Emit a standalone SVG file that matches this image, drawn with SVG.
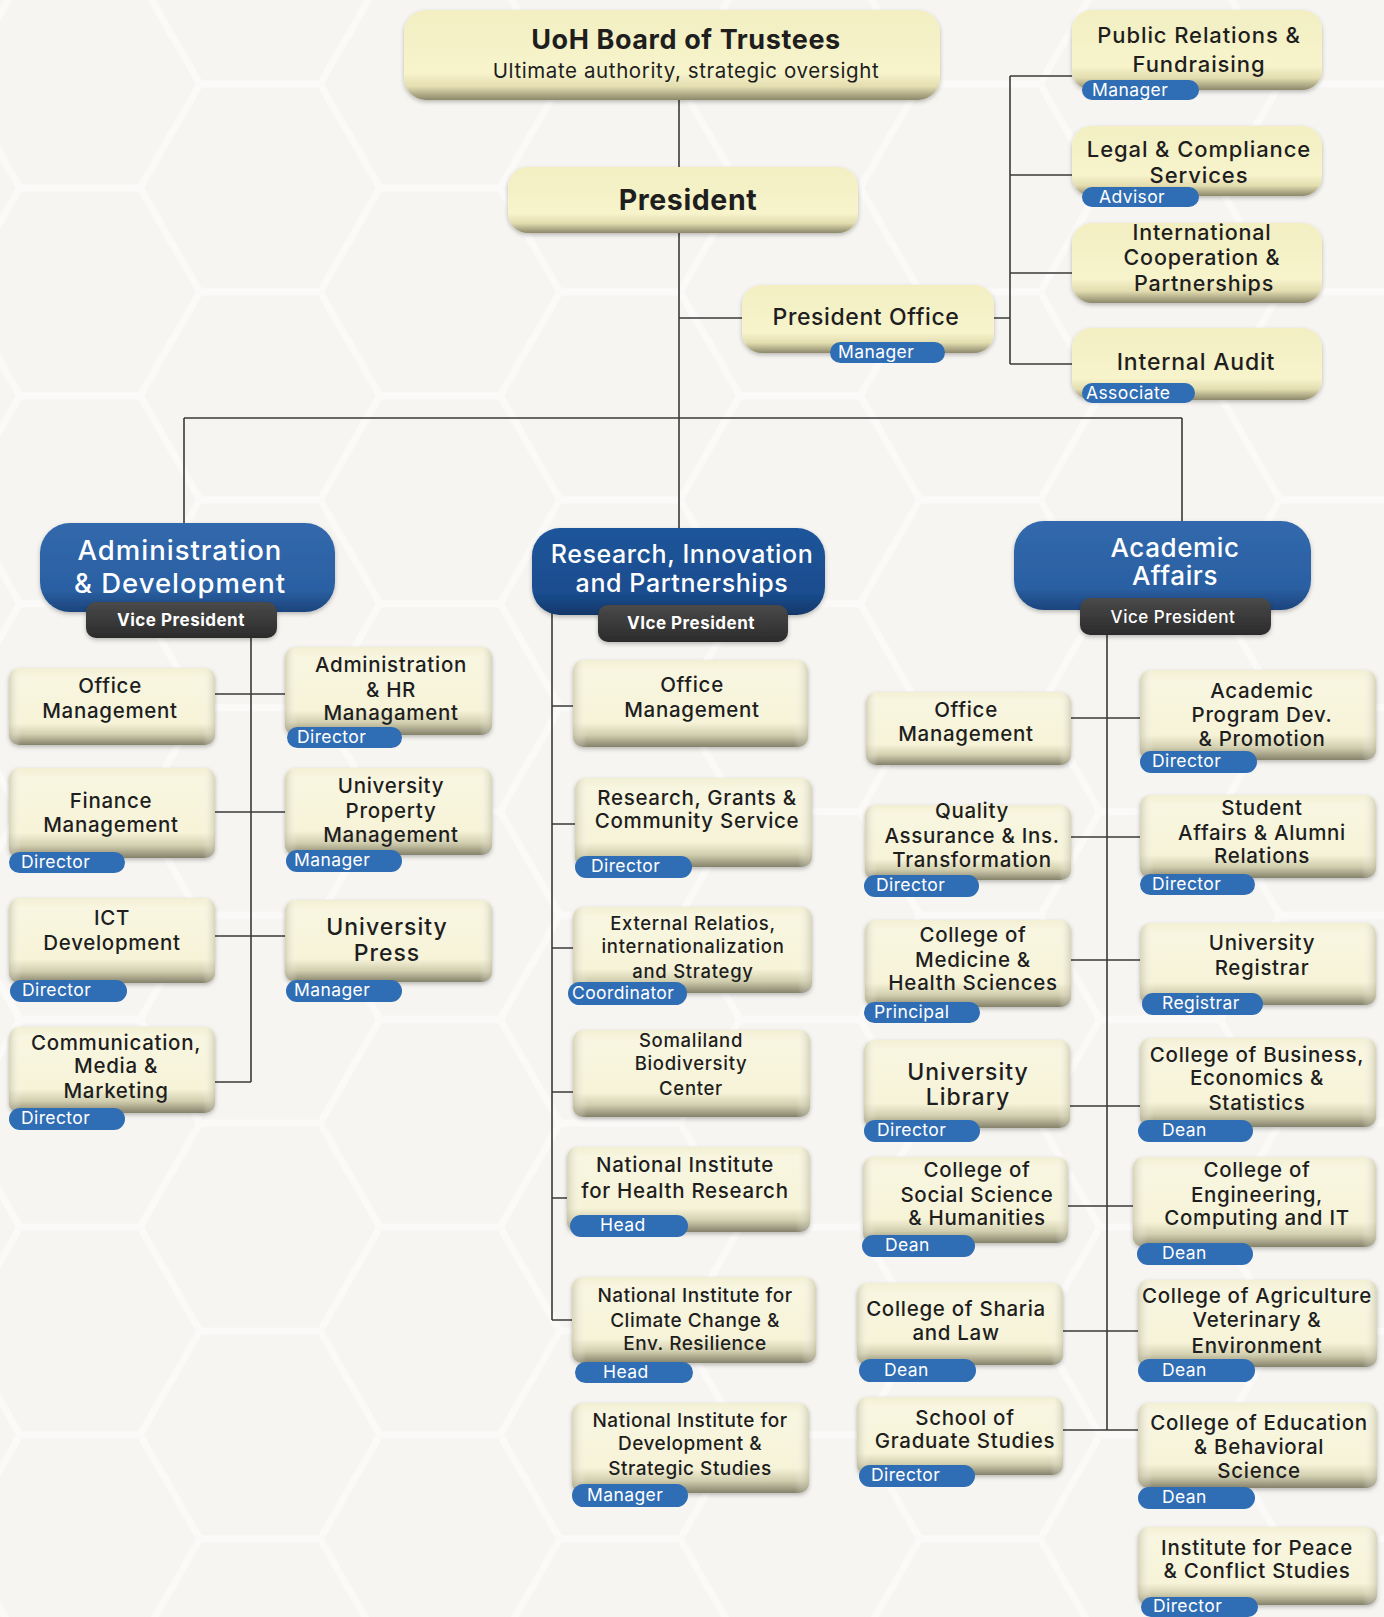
<svg xmlns="http://www.w3.org/2000/svg" width="1384" height="1617" viewBox="0 0 1384 1617">
<defs>
<pattern id="hex" width="360" height="207.85" patternUnits="userSpaceOnUse" x="-40" y="-20">
<path d="M0,103.9 L60,0 L180,0 L240,103.9 L180,207.8 L60,207.8 Z M240,103.9 L360,103.9" fill="none" stroke="#ffffff" stroke-width="7"/>
</pattern>
<linearGradient id="cg" x1="0" y1="0" x2="0" y2="1">
<stop offset="0" stop-color="#f2efd3"/>
<stop offset="0.12" stop-color="#f8f6e0"/>
<stop offset="0.72" stop-color="#f6f3d8"/>
<stop offset="0.86" stop-color="#d2cfb0"/>
<stop offset="1" stop-color="#85826b"/>
</linearGradient>
<linearGradient id="side" x1="0" y1="0" x2="1" y2="0">
<stop offset="0" stop-color="#bdb99c" stop-opacity="0.55"/>
<stop offset="0.06" stop-color="#ffffff" stop-opacity="0"/>
<stop offset="0.94" stop-color="#ffffff" stop-opacity="0"/>
<stop offset="1" stop-color="#bdb99c" stop-opacity="0.55"/>
</linearGradient>
<linearGradient id="tg" x1="0" y1="0" x2="0" y2="1">
<stop offset="0" stop-color="#f3efc3"/>
<stop offset="0.7" stop-color="#f7f3cb"/>
<stop offset="0.85" stop-color="#e3ddb0"/>
<stop offset="1" stop-color="#8c886a"/>
</linearGradient>
<linearGradient id="bl" x1="0" y1="0" x2="0" y2="1">
<stop offset="0" stop-color="#3169ac"/>
<stop offset="0.75" stop-color="#2b60a3"/>
<stop offset="1" stop-color="#1b447c"/>
</linearGradient>
<linearGradient id="bl2" x1="0" y1="0" x2="0" y2="1">
<stop offset="0" stop-color="#1f559a"/>
<stop offset="0.75" stop-color="#1a4d8f"/>
<stop offset="1" stop-color="#113768"/>
</linearGradient>
<linearGradient id="vg" x1="0" y1="0" x2="0" y2="1">
<stop offset="0" stop-color="#4a4a4a"/>
<stop offset="1" stop-color="#2b2b2b"/>
</linearGradient>
<filter id="sh" x="-10%" y="-10%" width="120%" height="130%">
<feDropShadow dx="0" dy="2" stdDeviation="2" flood-color="#000" flood-opacity="0.25"/>
</filter>
</defs>
<style>
.ln{stroke:#3a3a3a;stroke-width:1.6;fill:none}
.c{fill:url(#cg);filter:url(#sh)}
.s{fill:url(#side)}
.tp{fill:url(#tg);filter:url(#sh)}
.t{font-family:Inter,"Liberation Sans",sans-serif;font-size:20.5px;letter-spacing:0.7px;font-weight:500;fill:#1e1e1e;text-anchor:middle}
.tb{font-weight:700}
.b{fill:#2f6db4}
.bt{font-family:Inter,"Liberation Sans",sans-serif;font-size:17.5px;letter-spacing:0.4px;font-weight:400;fill:#ffffff}
.bx{fill:url(#bl);filter:url(#sh)}
.bx2{fill:url(#bl2);filter:url(#sh)}
.bw{font-family:Inter,"Liberation Sans",sans-serif;font-size:27.5px;letter-spacing:1px;font-weight:500;fill:#ffffff;text-anchor:middle}
.vp{fill:url(#vg);filter:url(#sh)}
.vt{font-family:Inter,"Liberation Sans",sans-serif;font-size:17px;letter-spacing:0.5px;font-weight:700;fill:#ffffff;text-anchor:middle}
</style>
<rect width="1384" height="1617" fill="#f6f5f1"/>
<rect width="1384" height="1617" fill="url(#hex)" opacity="0.5"/>

<g id="connectors">
<path class="ln" d="M679,100 V167 M679,233 V418 M679,318 H742"/>
<path class="ln" d="M994,318 H1010 M1010,76 V364 M1010,76 H1072 M1010,175 H1072 M1010,273 H1072 M1010,364 H1072"/>
<path class="ln" d="M184,418 H1182 M184,418 V523 M679,418 V528 M1182,418 V521"/>
<path class="ln" d="M251,638 V1082 M215,694 H285 M215,812 H285 M215,936 H285 M215,1082 H251"/>
<path class="ln" d="M552,612 V1320 M552,706 H573 M552,824 H575 M552,948 H573 M552,1092 H573 M552,1198 H567 M552,1320 H572"/>
<path class="ln" d="M1107,635 V1430 M1071,718 H1140 M1071,837 H1140 M1071,960 H1140 M1070,1106 H1140 M1068,1206 H1133 M1063,1331 H1138 M1063,1430 H1138"/>
</g>

<g id="n-board"><rect class="tp" x="404" y="10" width="536" height="90" rx="22"/><text class="t tb" x="686" y="49" style="font-size:27px;letter-spacing:0.6px">UoH Board of Trustees</text><text class="t" x="686" y="78" style="font-size:20.5px;letter-spacing:0.6px;font-weight:400">Ultimate authority, strategic oversight</text></g>
<g id="n-president"><rect class="tp" x="508" y="167" width="350" height="66" rx="20"/><text class="t tb" x="688" y="210" style="font-size:28.5px;letter-spacing:0.6px">President</text></g>
<g id="n-po"><rect class="tp" x="742" y="285" width="252" height="68" rx="20"/><text class="t" x="866" y="325" style="font-size:23px;letter-spacing:0.6px">President Office</text><rect class="b" x="830" y="342" width="115" height="21" rx="10.5"/><text class="bt" x="838" y="358">Manager</text></g>
<g id="n-pr"><rect class="tp" x="1072" y="10" width="250" height="80" rx="20"/><text class="t" style="font-size:22px;letter-spacing:0.9px"><tspan x="1199" y="43">Public Relations &amp;</tspan><tspan x="1199" y="72">Fundraising</tspan></text><rect class="b" x="1082" y="80" width="117" height="20" rx="10"/><text class="bt" x="1092" y="96">Manager</text></g>
<g id="n-legal"><rect class="tp" x="1072" y="126" width="250" height="70" rx="20"/><text class="t" style="font-size:22px;letter-spacing:0.9px"><tspan x="1199" y="157">Legal &amp; Compliance</tspan><tspan x="1199" y="183">Services</tspan></text><rect class="b" x="1082" y="187" width="117" height="20" rx="10"/><text class="bt" x="1099" y="203">Advisor</text></g>
<g id="n-intl"><rect class="tp" x="1072" y="223" width="250" height="80" rx="20"/><text class="t" style="font-size:21.5px;letter-spacing:0.8px"><tspan x="1202" y="240">International</tspan><tspan x="1202" y="265">Cooperation &amp;</tspan><tspan x="1204" y="291">Partnerships</tspan></text></g>
<g id="n-audit"><rect class="tp" x="1072" y="328" width="250" height="72" rx="20"/><text class="t" x="1196" y="370" style="font-size:23px;letter-spacing:0.8px">Internal Audit</text><rect class="b" x="1082" y="383" width="113" height="20" rx="10"/><text class="bt" x="1086" y="399">Associate</text></g>

<g id="n-admin"><rect class="bx" x="40" y="523" width="295" height="89" rx="30"/><text class="bw"><tspan x="180" y="560">Administration</tspan><tspan x="180" y="593">&amp; Development</tspan></text><rect class="vp" x="86" y="602" width="191" height="36" rx="10"/><text class="vt" x="181" y="626">Vice President</text></g>
<g id="n-research"><rect class="bx2" x="532" y="528" width="293" height="87" rx="28"/><text class="bw" style="font-size:25px;letter-spacing:0.6px"><tspan x="682" y="563">Research, Innovation</tspan><tspan x="682" y="592">and Partnerships</tspan></text><rect class="vp" x="598" y="605" width="190" height="37" rx="10"/><text class="vt" x="691" y="629">VIce President</text></g>
<g id="n-academic"><rect class="bx" x="1014" y="521" width="297" height="89" rx="30"/><text class="bw" style="font-size:26px;letter-spacing:0.6px"><tspan x="1175" y="557">Academic</tspan><tspan x="1175" y="585">Affairs</tspan></text><rect class="vp" x="1080" y="598" width="191" height="37" rx="10"/><text class="vt" x="1173" y="623" style="font-weight:500">Vice President</text></g>

<g id="n-a-office"><rect class="c" x="9" y="668" width="206" height="77" rx="10"/><rect class="s" x="9" y="668" width="206" height="77" rx="10"/><text class="t"><tspan x="110" y="693">Office</tspan><tspan x="110" y="718">Management</tspan></text></g>
<g id="n-a-hr"><rect class="c" x="285" y="647" width="207" height="88" rx="10"/><rect class="s" x="285" y="647" width="207" height="88" rx="10"/><text class="t"><tspan x="391" y="672">Administration</tspan><tspan x="391" y="697">&amp; HR</tspan><tspan x="391" y="720">Managament</tspan></text><rect class="b" x="287" y="727" width="115" height="21" rx="10.5"/><text class="bt" x="297" y="743">Director</text></g>
<g id="n-a-finance"><rect class="c" x="9" y="768" width="206" height="90" rx="10"/><rect class="s" x="9" y="768" width="206" height="90" rx="10"/><text class="t"><tspan x="111" y="808">Finance</tspan><tspan x="111" y="832">Management</tspan></text><rect class="b" x="9" y="852" width="116" height="21" rx="10.5"/><text class="bt" x="21" y="868">Director</text></g>
<g id="n-a-property"><rect class="c" x="285" y="768" width="207" height="87" rx="10"/><rect class="s" x="285" y="768" width="207" height="87" rx="10"/><text class="t"><tspan x="391" y="793">University</tspan><tspan x="391" y="818">Property</tspan><tspan x="391" y="842">Management</tspan></text><rect class="b" x="286" y="850" width="116" height="22" rx="11"/><text class="bt" x="294" y="866">Manager</text></g>
<g id="n-a-ict"><rect class="c" x="9" y="898" width="206" height="85" rx="10"/><rect class="s" x="9" y="898" width="206" height="85" rx="10"/><text class="t"><tspan x="112" y="925">ICT</tspan><tspan x="112" y="950">Development</tspan></text><rect class="b" x="10" y="980" width="117" height="22" rx="11"/><text class="bt" x="22" y="996">Director</text></g>
<g id="n-a-press"><rect class="c" x="285" y="900" width="207" height="82" rx="10"/><rect class="s" x="285" y="900" width="207" height="82" rx="10"/><text class="t" style="font-size:23px;letter-spacing:1px"><tspan x="387" y="935">University</tspan><tspan x="387" y="961">Press</tspan></text><rect class="b" x="286" y="980" width="116" height="22" rx="11"/><text class="bt" x="294" y="996">Manager</text></g>
<g id="n-a-comm"><rect class="c" x="9" y="1027" width="206" height="86" rx="10"/><rect class="s" x="9" y="1027" width="206" height="86" rx="10"/><text class="t"><tspan x="116" y="1050">Communication,</tspan><tspan x="116" y="1073">Media &amp;</tspan><tspan x="116" y="1098">Marketing</tspan></text><rect class="b" x="9" y="1108" width="116" height="22" rx="11"/><text class="bt" x="21" y="1124">Director</text></g>

<g id="n-r-office"><rect class="c" x="573" y="660" width="235" height="87" rx="10"/><rect class="s" x="573" y="660" width="235" height="87" rx="10"/><text class="t"><tspan x="692" y="692">Office</tspan><tspan x="692" y="717">Management</tspan></text></g>
<g id="n-r-grants"><rect class="c" x="575" y="778" width="237" height="89" rx="10"/><rect class="s" x="575" y="778" width="237" height="89" rx="10"/><text class="t"><tspan x="697" y="805">Research, Grants &amp;</tspan><tspan x="697" y="828">Community Service</tspan></text><rect class="b" x="575" y="856" width="117" height="22" rx="11"/><text class="bt" x="591" y="872">Director</text></g>
<g id="n-r-external"><rect class="c" x="573" y="907" width="239" height="86" rx="10"/><rect class="s" x="573" y="907" width="239" height="86" rx="10"/><text class="t" style="font-size:18.5px;letter-spacing:0.7px"><tspan x="693" y="930">External Relatios,</tspan><tspan x="693" y="953">internationalization</tspan><tspan x="693" y="978">and  Strategy</tspan></text><rect class="b" x="568" y="982" width="119" height="23" rx="11.5"/><text class="bt" x="572" y="999">Coordinator</text></g>
<g id="n-r-bio"><rect class="c" x="573" y="1030" width="237" height="87" rx="10"/><rect class="s" x="573" y="1030" width="237" height="87" rx="10"/><text class="t" style="font-size:18.5px;letter-spacing:0.7px"><tspan x="691" y="1047">Somaliland</tspan><tspan x="691" y="1070">Biodiversity</tspan><tspan x="691" y="1095">Center</tspan></text></g>
<g id="n-r-health"><rect class="c" x="567" y="1147" width="243" height="85" rx="10"/><rect class="s" x="567" y="1147" width="243" height="85" rx="10"/><text class="t"><tspan x="685" y="1172">National Institute</tspan><tspan x="685" y="1198">for Health Research</tspan></text><rect class="b" x="570" y="1215" width="118" height="22" rx="11"/><text class="bt" x="600" y="1231">Head</text></g>
<g id="n-r-climate"><rect class="c" x="572" y="1277" width="244" height="86" rx="10"/><rect class="s" x="572" y="1277" width="244" height="86" rx="10"/><text class="t" style="font-size:19px;letter-spacing:0.5px"><tspan x="695" y="1302">National Institute for</tspan><tspan x="695" y="1327">Climate Change &amp;</tspan><tspan x="695" y="1350">Env. Resilience</tspan></text><rect class="b" x="575" y="1362" width="118" height="21" rx="10.5"/><text class="bt" x="603" y="1378">Head</text></g>
<g id="n-r-dev"><rect class="c" x="572" y="1403" width="237" height="90" rx="10"/><rect class="s" x="572" y="1403" width="237" height="90" rx="10"/><text class="t" style="font-size:19px;letter-spacing:0.5px"><tspan x="690" y="1427">National Institute for</tspan><tspan x="690" y="1450">Development &amp;</tspan><tspan x="690" y="1475">Strategic Studies</tspan></text><rect class="b" x="572" y="1484" width="116" height="23" rx="11.5"/><text class="bt" x="587" y="1501">Manager</text></g>

<g id="n-c-office"><rect class="c" x="866" y="692" width="205" height="73" rx="10"/><rect class="s" x="866" y="692" width="205" height="73" rx="10"/><text class="t"><tspan x="966" y="717">Office</tspan><tspan x="966" y="741">Management</tspan></text></g>
<g id="n-c-program"><rect class="c" x="1140" y="670" width="236" height="90" rx="10"/><rect class="s" x="1140" y="670" width="236" height="90" rx="10"/><text class="t"><tspan x="1262" y="698">Academic</tspan><tspan x="1262" y="722">Program Dev.</tspan><tspan x="1262" y="746">&amp; Promotion</tspan></text><rect class="b" x="1140" y="751" width="117" height="22" rx="11"/><text class="bt" x="1152" y="767">Director</text></g>
<g id="n-c-quality"><rect class="c" x="865" y="805" width="206" height="75" rx="10"/><rect class="s" x="865" y="805" width="206" height="75" rx="10"/><text class="t"><tspan x="972" y="818">Quality</tspan><tspan x="972" y="843">Assurance &amp; Ins.</tspan><tspan x="972" y="867">Transformation</tspan></text><rect class="b" x="864" y="875" width="115" height="22" rx="11"/><text class="bt" x="876" y="891">Director</text></g>
<g id="n-c-student"><rect class="c" x="1140" y="795" width="236" height="83" rx="10"/><rect class="s" x="1140" y="795" width="236" height="83" rx="10"/><text class="t"><tspan x="1262" y="815">Student</tspan><tspan x="1262" y="840">Affairs &amp; Alumni</tspan><tspan x="1262" y="863">Relations</tspan></text><rect class="b" x="1140" y="874" width="115" height="21" rx="10.5"/><text class="bt" x="1152" y="890">Director</text></g>
<g id="n-c-medicine"><rect class="c" x="865" y="920" width="206" height="87" rx="10"/><rect class="s" x="865" y="920" width="206" height="87" rx="10"/><text class="t"><tspan x="973" y="942">College of</tspan><tspan x="973" y="967">Medicine &amp;</tspan><tspan x="973" y="990">Health Sciences</tspan></text><rect class="b" x="864" y="1002" width="116" height="21" rx="10.5"/><text class="bt" x="874" y="1018">Principal</text></g>
<g id="n-c-registrar"><rect class="c" x="1140" y="923" width="236" height="82" rx="10"/><rect class="s" x="1140" y="923" width="236" height="82" rx="10"/><text class="t"><tspan x="1262" y="950">University</tspan><tspan x="1262" y="975">Registrar</tspan></text><rect class="b" x="1142" y="993" width="121" height="22" rx="11"/><text class="bt" x="1162" y="1009">Registrar</text></g>
<g id="n-c-library"><rect class="c" x="864" y="1040" width="206" height="88" rx="10"/><rect class="s" x="864" y="1040" width="206" height="88" rx="10"/><text class="t" style="font-size:23px;letter-spacing:1px"><tspan x="968" y="1080">University</tspan><tspan x="968" y="1105">Library</tspan></text><rect class="b" x="864" y="1120" width="116" height="22" rx="11"/><text class="bt" x="877" y="1136">Director</text></g>
<g id="n-c-business"><rect class="c" x="1140" y="1038" width="236" height="89" rx="10"/><rect class="s" x="1140" y="1038" width="236" height="89" rx="10"/><text class="t"><tspan x="1257" y="1062">College of Business,</tspan><tspan x="1257" y="1085">Economics &amp;</tspan><tspan x="1257" y="1110">Statistics</tspan></text><rect class="b" x="1138" y="1120" width="115" height="22" rx="11"/><text class="bt" x="1162" y="1136">Dean</text></g>
<g id="n-c-social"><rect class="c" x="863" y="1157" width="205" height="86" rx="10"/><rect class="s" x="863" y="1157" width="205" height="86" rx="10"/><text class="t"><tspan x="977" y="1177">College of</tspan><tspan x="977" y="1202">Social Science</tspan><tspan x="977" y="1225">&amp; Humanities</tspan></text><rect class="b" x="862" y="1235" width="113" height="22" rx="11"/><text class="bt" x="885" y="1251">Dean</text></g>
<g id="n-c-engineering"><rect class="c" x="1133" y="1157" width="243" height="90" rx="10"/><rect class="s" x="1133" y="1157" width="243" height="90" rx="10"/><text class="t"><tspan x="1257" y="1177">College of</tspan><tspan x="1257" y="1202">Engineering,</tspan><tspan x="1257" y="1225">Computing and IT</tspan></text><rect class="b" x="1137" y="1243" width="116" height="22" rx="11"/><text class="bt" x="1162" y="1259">Dean</text></g>
<g id="n-c-sharia"><rect class="c" x="857" y="1283" width="206" height="82" rx="10"/><rect class="s" x="857" y="1283" width="206" height="82" rx="10"/><text class="t"><tspan x="956" y="1316">College of Sharia</tspan><tspan x="956" y="1340">and Law</tspan></text><rect class="b" x="859" y="1359" width="117" height="23" rx="11.5"/><text class="bt" x="884" y="1376">Dean</text></g>
<g id="n-c-agriculture"><rect class="c" x="1138" y="1280" width="239" height="87" rx="10"/><rect class="s" x="1138" y="1280" width="239" height="87" rx="10"/><text class="t"><tspan x="1257" y="1303">College of Agriculture</tspan><tspan x="1257" y="1327">Veterinary &amp;</tspan><tspan x="1257" y="1353">Environment</tspan></text><rect class="b" x="1138" y="1359" width="117" height="23" rx="11.5"/><text class="bt" x="1162" y="1376">Dean</text></g>
<g id="n-c-graduate"><rect class="c" x="857" y="1397" width="206" height="78" rx="10"/><rect class="s" x="857" y="1397" width="206" height="78" rx="10"/><text class="t"><tspan x="965" y="1425">School of</tspan><tspan x="965" y="1448">Graduate Studies</tspan></text><rect class="b" x="859" y="1465" width="116" height="22" rx="11"/><text class="bt" x="871" y="1481">Director</text></g>
<g id="n-c-education"><rect class="c" x="1138" y="1403" width="239" height="85" rx="10"/><rect class="s" x="1138" y="1403" width="239" height="85" rx="10"/><text class="t"><tspan x="1259" y="1430">College of Education</tspan><tspan x="1259" y="1454">&amp; Behavioral</tspan><tspan x="1259" y="1478">Science</tspan></text><rect class="b" x="1138" y="1487" width="117" height="22" rx="11"/><text class="bt" x="1162" y="1503">Dean</text></g>
<g id="n-c-peace"><rect class="c" x="1138" y="1527" width="239" height="78" rx="10"/><rect class="s" x="1138" y="1527" width="239" height="78" rx="10"/><text class="t"><tspan x="1257" y="1555">Institute for Peace</tspan><tspan x="1257" y="1578">&amp; Conflict Studies</tspan></text><rect class="b" x="1141" y="1597" width="117" height="20" rx="10"/><text class="bt" x="1153" y="1612">Director</text></g>
</svg>
